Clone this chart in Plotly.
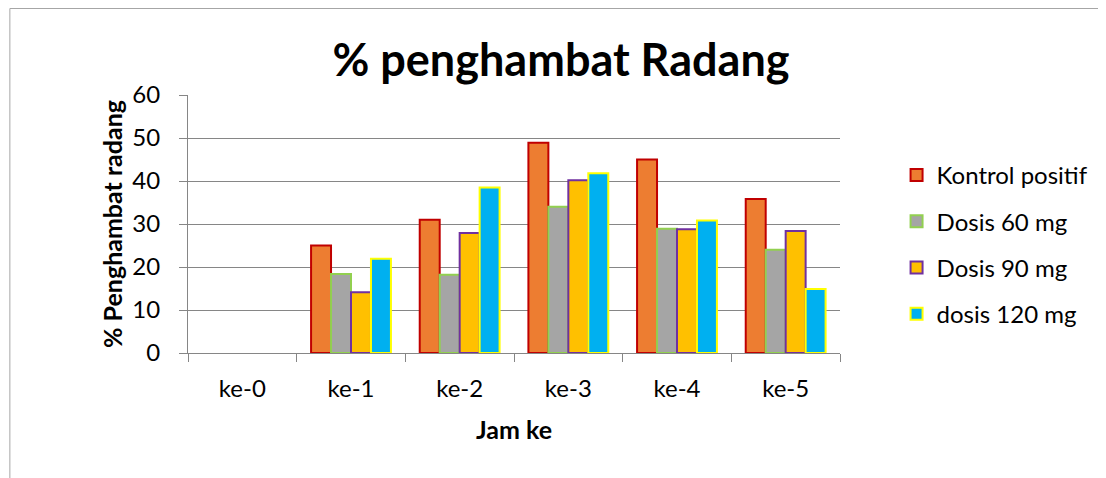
import plotly.graph_objects as go

# data
jam = ["ke-0", "ke-1", "ke-2", "ke-3", "ke-4", "ke-5"]
kontrol_positif = [0, 25.0, 31.0, 48.9, 45.0, 35.8]
dosis_60 = [0, 18.4, 18.2, 34.0, 28.9, 24.0]
dosis_90 = [0, 14.1, 27.9, 40.2, 28.8, 28.4]
dosis_120 = [0, 21.9, 38.5, 41.8, 30.8, 14.9]
y_ticks = [0, 10, 20, 30, 40, 50, 60]

OFF = 8  # page body margin
W, H = 1106 - OFF, 478 - OFF
L, R, T, B = 188 - OFF, 845 - OFF, 95 - OFF, 353 - OFF
FONT = "Lato, Carlito, Calibri, sans-serif"

series = [
    ("Kontrol positif", kontrol_positif, "#ED7D31", "#C00000"),
    ("Dosis 60 mg", dosis_60, "#A5A5A5", "#92D050"),
    ("Dosis 90 mg", dosis_90, "#FFC000", "#7030A0"),
    ("dosis 120 mg", dosis_120, "#00B0F0", "#FFFF00"),
]

fig = go.Figure()
for i, (name, vals, fill, edge) in enumerate(series):
    # zero-height bars are not drawn at all in the reference
    shown = [v if v else None for v in vals]
    fig.add_trace(go.Bar(x=jam, y=shown, name=name, legendgroup="g%d" % i,
                         marker=dict(color=fill, line=dict(color=edge, width=2))))

def px(x):
    return (x - OFF - L) / (R - L)

def py(y):
    return (B - (y - OFF)) / (B - T)

fig.update_layout(
    width=W, height=H,
    margin=dict(l=L, r=W - R, t=T, b=H - B),
    paper_bgcolor="white", plot_bgcolor="white",
    barmode="group", bargap=0.265, bargroupgap=0,
    font=dict(family=FONT, size=24, color="black"),
    title=dict(text="<b>% penghambat Radang</b>", x=(561 - OFF) / W, xanchor="center",
               xref="container", y=1 - (60 - OFF) / H, yanchor="middle",
               font=dict(size=45, family=FONT, color="black")),
    legend=dict(x=px(902), y=py(153), xanchor="left", yanchor="top",
                font=dict(size=24, family=FONT), tracegroupgap=12,
                traceorder="grouped", bgcolor="rgba(0,0,0,0)"),
    showlegend=True,
)
fig.update_xaxes(
    showline=True, linecolor="#868686", linewidth=1,
    ticks="outside", tickson="boundaries", ticklen=8, tickcolor="#868686",
    title=dict(text="<b>Jam ke</b>", font=dict(size=25), standoff=20),
    tickfont=dict(size=24), ticklabelstandoff=14,
)
fig.update_yaxes(
    range=[0, 60], tickvals=y_ticks, showgrid=True, gridcolor="#868686",
    gridwidth=1, showline=True, linecolor="#868686", ticks="outside",
    ticklen=8, tickcolor="#868686", zeroline=False,
    title=dict(text="<b>% Penghambat radang</b>", font=dict(size=25), standoff=2),
    tickfont=dict(size=24), ticklabelstandoff=14,
)

# outer chart frame (only top and left edges are visible in the reference)
fig.add_shape(type="line", xref="paper", yref="paper",
              x0=px(8.5), x1=px(1115), y0=py(8.5), y1=py(8.5),
              line=dict(color="#A6A6A6", width=1))
fig.add_shape(type="line", xref="paper", yref="paper",
              x0=px(8.5), x1=px(8.5), y0=py(8.5), y1=py(490),
              line=dict(color="#A6A6A6", width=1))

fig.write_html("out.html")
